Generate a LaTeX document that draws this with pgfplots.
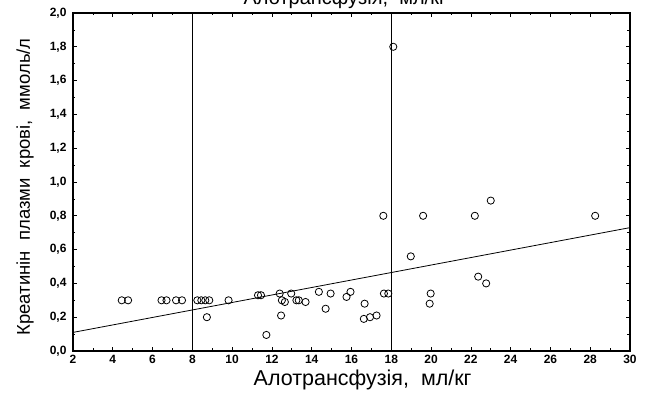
\documentclass[border=0pt]{standalone}
\usepackage{fontspec}
\setmainfont{Liberation Sans}
\usepackage{pgfplots}
\pgfplotsset{compat=1.18}

\begin{document}
\begin{tikzpicture}
\begin{axis}[
  scale only axis,
  width=557pt, height=338pt,
  xmin=2, xmax=30, ymin=0, ymax=2,
  xtick={2,4,...,30},
  ytick={0,0.2,...,2.01},
  minor x tick num=1,
  minor y tick num=1,
  tick align=inside,
  major tick length=4pt,
  minor tick length=2.5pt,
  tick style={black, line width=0.7pt},
  axis line style={black, line width=1.2pt},
  /pgf/number format/assume math mode=true,
  yticklabel style={xshift=-3pt, /pgf/number format/.cd, use comma, fixed, fixed zerofill, precision=1},
  xticklabel style={yshift=-1pt, /pgf/number format/.cd, fixed, precision=0},
  tick label style={font=\fontsize{12}{12}\selectfont\bfseries},
  xlabel={Алотрансфузія,\ \ мл/кг},
  ylabel={Креатинін\ \ плазми\ \ крові,\ \ ммоль/л},
  every axis x label/.style={at={(axis description cs:0.52,0)}, anchor=base, yshift=-35pt, font=\fontsize{21.5}{22}\selectfont},
  every axis y label/.style={at={(axis description cs:0,0.5)}, anchor=base, xshift=-43pt, yshift=-5pt, rotate=90, font=\fontsize{18.5}{19}\selectfont},
  clip=false,
]
% vertical reference lines at 8 and 18 ml/kg
\addplot[black, line width=0.9pt] coordinates {(8,0) (8,2)};
\addplot[black, line width=0.9pt] coordinates {(18,0) (18,2)};
% linear regression
\addplot[black, line width=0.8pt] coordinates {(2,0.11) (30,0.73)};
% observations
\addplot[only marks, mark=o, mark size=3.6pt, black, line width=0.8pt] coordinates {
(4.45,0.30) (4.77,0.30)
(6.45,0.30) (6.70,0.30)
(7.18,0.30) (7.48,0.30)
(8.25,0.30) (8.45,0.30) (8.65,0.30) (8.85,0.30)
(8.73,0.20)
(9.82,0.30)
(11.30,0.33) (11.45,0.33)
(11.72,0.095)
(12.39,0.34) (12.50,0.30) (12.65,0.29) (12.46,0.21)
(12.97,0.34)
(13.23,0.30) (13.35,0.30) (13.69,0.29)
(14.36,0.35) (14.70,0.25) (14.95,0.34)
(15.75,0.32) (15.95,0.35)
(16.66,0.28) (16.62,0.19) (16.93,0.20) (17.26,0.21)
(17.63,0.34) (17.85,0.34)
(17.60,0.80)
(18.10,1.80)
(18.98,0.56)
(19.60,0.80)
(19.98,0.34) (19.93,0.28)
(22.20,0.80)
(22.37,0.44) (22.77,0.40)
(23.00,0.89)
(28.25,0.80)
};
\end{axis}
% title above the frame, partly cut by the page edge
\node[anchor=base, font=\fontsize{20}{21}\selectfont] at (272pt,346pt) {Алотрансфузія,\ \ мл/кг};
\pgfresetboundingbox
\path[use as bounding box] (-73pt,-42pt) rectangle (573pt,351pt);
\end{tikzpicture}
\end{document}
